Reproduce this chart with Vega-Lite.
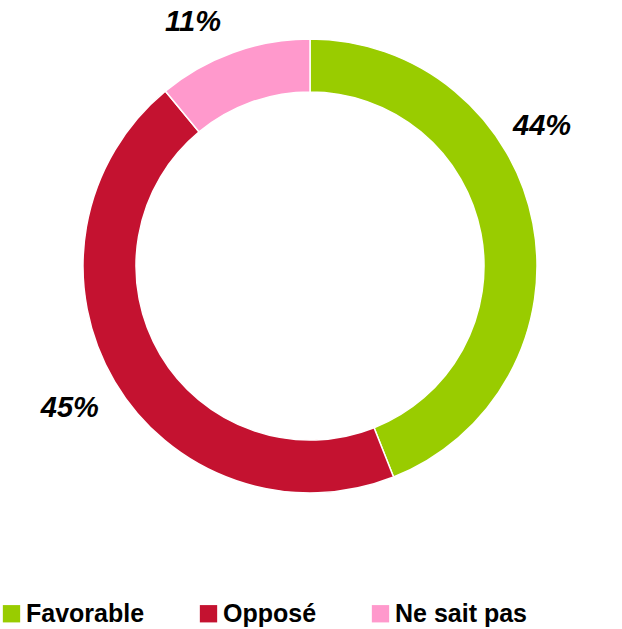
{
  "$schema": "https://vega.github.io/schema/vega-lite/v6.json",
  "width": 620,
  "height": 532,
  "autosize": {"type": "none"},
  "padding": {"left": 0, "top": 0, "right": 2, "bottom": 97},
  "background": "white",
  "view": {"stroke": null},
  "data": {
    "values": [
      {"category": "Favorable", "value": 44, "order": 1},
      {"category": "Opposé", "value": 45, "order": 2},
      {"category": "Ne sait pas", "value": 11, "order": 3}
    ]
  },
  "transform": [
    {"stack": "value", "groupby": [], "sort": [{"field": "order"}], "as": ["v0", "v1"]},
    {"calculate": "(datum.v0 + datum.v1) / 2", "as": "mid"},
    {"calculate": "datum.value + '%'", "as": "label"}
  ],
  "layer": [
    {
      "mark": {"type": "arc", "outerRadius": 227, "innerRadius": 174, "stroke": "white", "strokeWidth": 1.5},
      "encoding": {
        "theta": {"field": "v0", "type": "quantitative", "scale": {"domain": [0, 100]}},
        "theta2": {"field": "v1"},
        "color": {
          "field": "category",
          "type": "nominal",
          "sort": ["Favorable", "Opposé", "Ne sait pas"],
          "scale": {"domain": ["Favorable", "Opposé", "Ne sait pas"], "range": ["#99CC00", "#C41230", "#FF99CC"]},
          "legend": {
            "title": null,
            "orient": "none",
            "direction": "horizontal",
            "legendX": -1,
            "legendY": 601,
            "symbolType": "square",
            "symbolSize": 300,
            "symbolStrokeWidth": 0,
            "symbolOpacity": 1,
            "labelFont": "Liberation Sans",
            "labelFontWeight": "bold",
            "labelFontSize": 25,
            "labelColor": "black",
            "labelOffset": 2,
            "columnPadding": 51,
            "labelLimit": 300
          }
        }
      }
    },
    {
      "transform": [{"filter": "datum.category == 'Opposé'"}],
      "mark": {"type": "text", "radius": 279, "font": "Liberation Sans", "fontWeight": "bold", "fontStyle": "italic", "fontSize": 29, "color": "black", "align": "center", "baseline": "middle"},
      "encoding": {
        "theta": {"field": "mid", "type": "quantitative"},
        "text": {"field": "label", "type": "nominal"}
      }
    },
    {
      "transform": [{"filter": "datum.category == 'Favorable'"}],
      "mark": {"type": "text", "radius": 271, "thetaOffset": -0.354, "font": "Liberation Sans", "fontWeight": "bold", "fontStyle": "italic", "fontSize": 29, "color": "black", "align": "center", "baseline": "middle"},
      "encoding": {
        "theta": {"field": "mid", "type": "quantitative"},
        "text": {"field": "label", "type": "nominal"}
      }
    },
    {
      "transform": [{"filter": "datum.category == 'Ne sait pas'"}],
      "mark": {"type": "text", "radius": 271, "thetaOffset": -0.101, "font": "Liberation Sans", "fontWeight": "bold", "fontStyle": "italic", "fontSize": 29, "color": "black", "align": "center", "baseline": "middle"},
      "encoding": {
        "theta": {"field": "mid", "type": "quantitative"},
        "text": {"field": "label", "type": "nominal"}
      }
    }
  ]
}
